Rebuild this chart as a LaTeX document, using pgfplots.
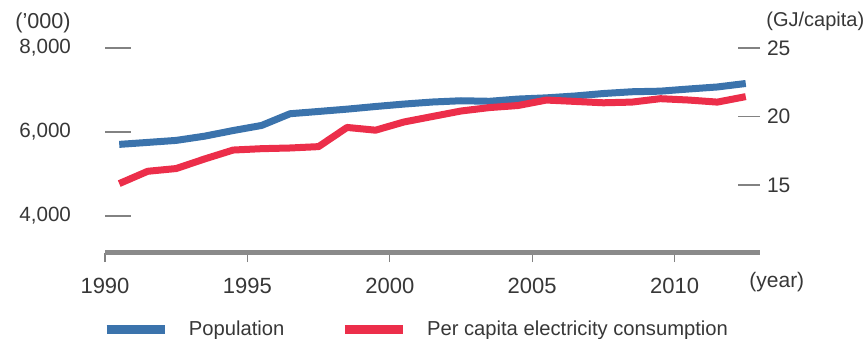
\documentclass[border=0pt]{standalone}
\usepackage{pgfplots}
\pgfplotsset{compat=1.18}
\usepackage{fontspec}
\setmainfont{Liberation Sans}

\definecolor{popblue}{RGB}{59,115,172}
\definecolor{elecred}{RGB}{236,46,74}
\definecolor{basegray}{RGB}{138,138,138}
\definecolor{tickgray}{RGB}{130,130,130}
\definecolor{txt}{RGB}{55,55,55}

% Population ('000), mid-year
\pgfplotstableread{
year pop
1990.5 5705
1991.5 5752
1992.5 5800
1993.5 5901
1994.5 6035
1995.5 6156
1996.5 6435
1997.5 6489
1998.5 6544
1999.5 6607
2000.5 6665
2001.5 6714
2002.5 6744
2003.5 6731
2004.5 6784
2005.5 6813
2006.5 6857
2007.5 6916
2008.5 6958
2009.5 6972
2010.5 7024
2011.5 7072
2012.5 7155
}\poptable

% Per capita electricity consumption (GJ/capita)
\pgfplotstableread{
year gj
1990.5 15.10
1991.5 16.00
1992.5 16.20
1993.5 16.90
1994.5 17.55
1995.5 17.65
1996.5 17.70
1997.5 17.80
1998.5 19.20
1999.5 19.00
2000.5 19.60
2001.5 20.00
2002.5 20.40
2003.5 20.65
2004.5 20.80
2005.5 21.20
2006.5 21.10
2007.5 21.00
2008.5 21.05
2009.5 21.30
2010.5 21.20
2011.5 21.05
2012.5 21.45
}\electable

\pgfplotsset{
  common/.style={
    at={(52.5pt,42.75pt)}, anchor=south west, scale only axis,
    width=327.5pt, height=102.25pt,
    xmin=1990, xmax=2013,
    clip=false,
    tick label style={text=txt},
    ytick style={draw=tickgray, line width=0.6pt},
    y axis line style={draw=none},
  },
}

\begin{document}
\begin{tikzpicture}
\useasboundingbox (0pt,0pt) rectangle (433.5pt,169pt);

% year axis: grey base line with short ticks
\begin{axis}[common,
  ymin=0, ymax=1,
  axis x line*=bottom, axis y line=none,
  x axis line style={draw=basegray, line width=2.2pt, -},
  xtick={1990,1995,2000,2005,2010},
  xticklabels={1990,1995,2000,2005,2010},
  xtick align=outside,
  major tick length=4.8pt,
  xtick style={draw=tickgray, line width=0.6pt},
  x tick label style={font=\fontsize{11}{13}\selectfont, yshift=-4.5pt},
]
\end{axis}

% left axis: population
\begin{axis}[common,
  ymin=3131, ymax=8000,
  axis x line=none, axis y line*=left,
  major tick length=13pt,
  ytick align=inside,
  ytick={4000,6000,8000},
  yticklabels={{4,000},{6,000},{8,000}},
  y tick label style={font=\fontsize{10.3}{12}\selectfont, anchor=east, xshift=-13.5pt},
]
\addplot[popblue, line width=3.5pt, line join=round] table[x=year, y=pop] {\poptable};
\end{axis}

% right axis: per capita electricity consumption
\begin{axis}[common,
  ymin=10.07, ymax=25,
  axis x line=none, axis y line*=right,
  ytick align=inside,
  major tick length=11pt,
  ytick={15,20,25},
  yticklabels={15,20,25},
  y tick label style={font=\fontsize{10.5}{12}\selectfont, anchor=west, xshift=0pt},
  legend columns=2,
  legend style={
    at={(-0.0046,-0.377)}, anchor=west,
    draw=none, fill=none, inner sep=0pt,
    font=\fontsize{10.1}{12}\selectfont, text=txt,
    /tikz/every even column/.append style={column sep=28pt},
    nodes={inner sep=0pt, outer sep=0pt},
  },
  legend cell align=left,
  legend image code/.code={\draw[#1, line width=4.3pt] (0pt,0pt) -- (29pt,0pt);},
]
\addlegendimage{popblue}
\addlegendentry{\hspace{10pt}Population}
\addplot[elecred, line width=3.5pt, line join=round] table[x=year, y=gj] {\electable};
\addlegendentry{\hspace{10pt}Per capita electricity consumption}
\end{axis}

% unit captions
\node[anchor=east, text=txt, font=\fontsize{10.8}{12}\selectfont, inner sep=0pt] at (35.5pt,157.5pt) {('000)};
\node[anchor=west, text=txt, font=\fontsize{10}{12}\selectfont, inner sep=0pt] at (383pt,158.5pt) {(GJ/capita)};
\node[anchor=west, text=txt, font=\fontsize{10.5}{13}\selectfont, inner sep=0pt] at (374.5pt,28pt) {(year)};
\end{tikzpicture}
\end{document}
